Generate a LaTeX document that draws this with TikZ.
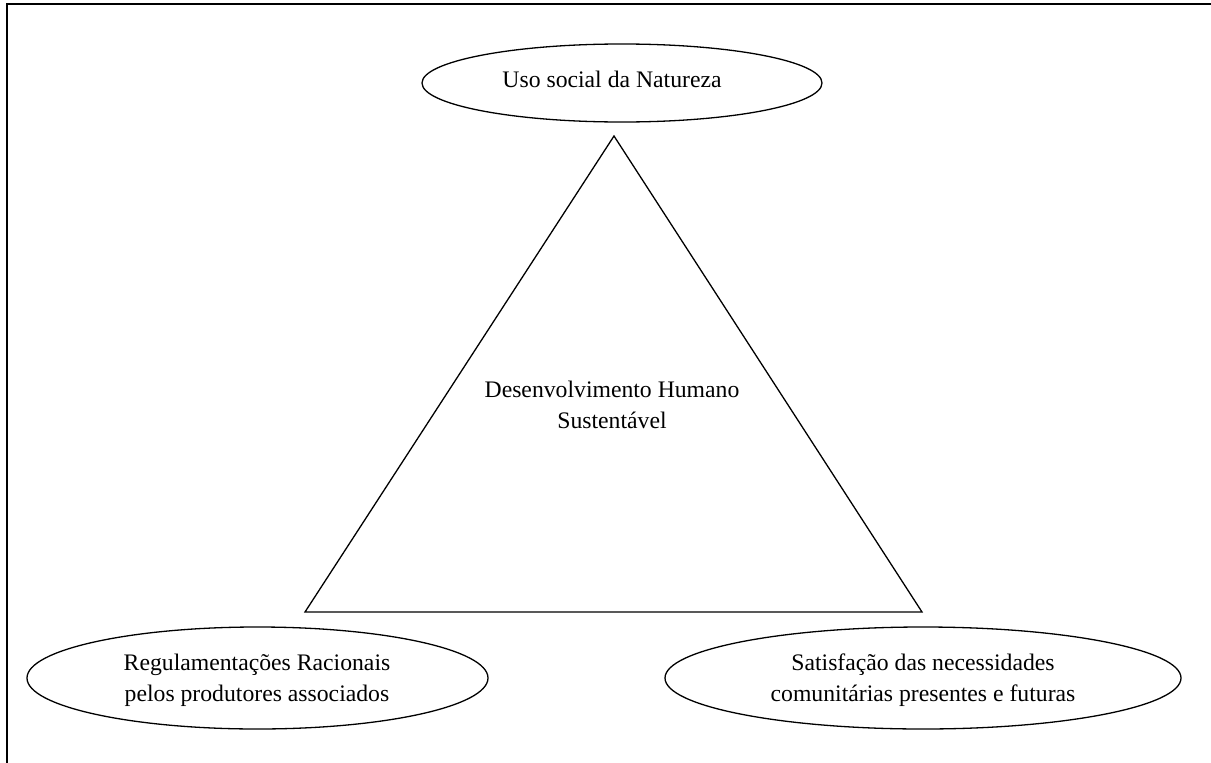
\documentclass[tikz,border=0pt]{standalone}
\usepackage{fontspec}
\setmainfont{Liberation Serif}
\usetikzlibrary{shapes.geometric}
\begin{document}
\begin{tikzpicture}[x=1pt,y=-1pt,
  ell/.style={draw, ellipse, line width=1.3pt, inner sep=0pt},
  txt/.style={align=center, font=\fontsize{23.7}{31}\selectfont, inner sep=0pt},
  frameline/.style={line width=2pt},
  tri/.style={line width=1.3pt, line join=miter}]
\useasboundingbox (0,0) rectangle (1211,763);
% frame (top and left sides only)
\coordinate (fbl) at (7,763);
\coordinate (ftl) at (7,4);
\coordinate (ftr) at (1211,4);
\draw[frameline] (fbl) -- (ftl) -- (ftr);
% triangle
\coordinate (apex) at (614,136);
\coordinate (bl) at (305,612);
\coordinate (br) at (922,612);
\draw[tri] (apex) -- (bl) -- (br) -- cycle;
% ellipses
\node[ell, minimum width=400pt, minimum height=78pt] (top) at (622,83) {};
\node[ell, minimum width=461pt, minimum height=102pt] (left) at (257.5,678) {};
\node[ell, minimum width=516pt, minimum height=102pt] (right) at (923,678) {};
% texts
\node[txt] (toptext) at (612,79) {Uso social da Natureza};
\node[txt] (center) at (612,404.5) {Desenvolvimento Humano\\Sustentável};
\node[txt] (lefttext) at (257,680) {Regulamentações Racionais\\pelos produtores associados};
\node[txt] (righttext) at (923,680) {Satisfação das necessidades\\comunitárias presentes e futuras};
\end{tikzpicture}
\end{document}
